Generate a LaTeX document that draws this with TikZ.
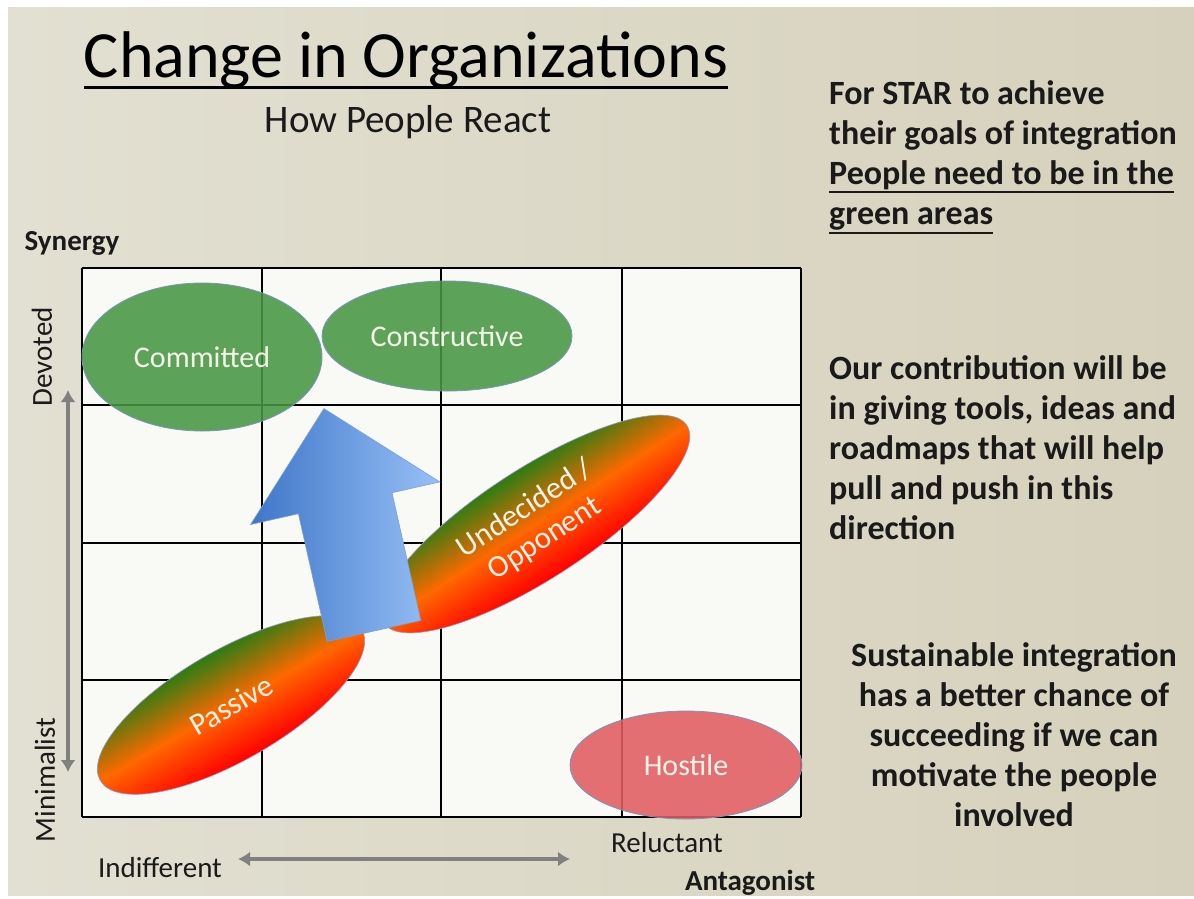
\documentclass[tikz,border=0pt]{standalone}
\usepackage{fontspec}
\setmainfont{Carlito}
\usepackage{tikz}
\usetikzlibrary{shapes.geometric,arrows.meta}

\definecolor{slideleft}{RGB}{226,224,210}
\definecolor{slidemid}{RGB}{240,239,231}
\definecolor{slideright}{RGB}{214,209,188}
\definecolor{gridfill}{RGB}{249,249,246}
\definecolor{blobtext}{RGB}{244,244,232}
\definecolor{leafgreen}{RGB}{72,150,68}
\definecolor{blobedge}{RGB}{120,150,190}
\definecolor{hostred}{RGB}{226,92,96}
\definecolor{hotgreen}{RGB}{45,125,20}
\definecolor{hotorange}{RGB}{255,104,0}
\definecolor{hotred}{RGB}{255,0,0}
\definecolor{hotedge}{RGB}{150,150,200}
\definecolor{pushdark}{RGB}{62,118,200}
\definecolor{pushlight}{RGB}{152,192,246}
\definecolor{pushedge}{RGB}{120,160,220}
\definecolor{axisgray}{RGB}{128,128,128}
\definecolor{inktext}{RGB}{26,26,26}

% underline with given depth and thickness
\newcommand{\ulinetext}[3]{\setbox0=\hbox{#3}\rlap{\rule[#1]{\wd0}{#2}}\box0}

\begin{document}
\begin{tikzpicture}[x=1pt,y=-1pt,
	gridline/.style={draw=black, line width=1.1pt},
	greenblob/.style={ellipse, draw=blobedge, line width=0.8pt, fill=leafgreen, fill opacity=0.88, text opacity=1, text=blobtext, font=\fontsize{30}{34}\selectfont, inner sep=0},
	hotblob/.style={ellipse, draw=hotedge, line width=0.6pt, top color=hotgreen, bottom color=hotred, middle color=hotorange, text=blobtext, font=\fontsize{31}{36}\selectfont, inner sep=0},
	axislabel/.style={text=inktext, font=\fontsize{29}{34}\selectfont, inner sep=0},
	sidetext/.style={text=inktext, font=\fontsize{34}{40}\selectfont\bfseries, inner sep=0},
	axisarrow/.style={{Latex[length=12pt,width=15pt]}-{Latex[length=12pt,width=15pt]}, line width=3.5pt, draw=axisgray}
]
\useasboundingbox (0,0) rectangle (1194,898);
\fill[white] (0,0) rectangle (1194,898);
\shade[left color=slideleft, middle color=slidemid, right color=slideright] (8,7) rectangle (1194,895);

% title
\node[anchor=base, text=black, font=\fontsize{66}{72}\selectfont, inner sep=0] (title) at (406,77) {\ulinetext{-12pt}{3pt}{Change in Organizations}};
\node[anchor=base, text=inktext, font=\fontsize{39}{44}\selectfont, inner sep=0] (subtitle) at (408,132) {How People React};

% grid
\fill[gridfill] (82,268) rectangle (801,817);
\foreach \gx in {82,262,441,622,801}
	\draw[gridline] (\gx,268) -- (\gx,817);
\foreach \gy in {268,405,543,680,817}
	\draw[gridline] (82,\gy) -- (801,\gy);

% groups of people
\node[greenblob, minimum width=240pt, minimum height=148pt] (committed) at (202,357) {Committed};
\node[greenblob, minimum width=250pt, minimum height=110pt] (constructive) at (447,336) {Constructive};
\node[greenblob, fill=hostred, minimum width=232pt, minimum height=108pt] (hostile) at (686,765) {Hostile};
\begin{scope}[transform canvas={rotate around={33:(535,524)}}]
	\node[hotblob, minimum width=362pt, minimum height=110pt, align=center] (undecided) at (535,524) {Undecided /\\Opponent};
\end{scope}
\begin{scope}[transform canvas={rotate around={30:(231,705)}}]
	\node[hotblob, minimum width=302pt, minimum height=110pt] (passive) at (231,705) {Passive};
\end{scope}

% big arrow
\shade[left color=pushdark, right color=pushlight, draw=pushedge, line width=0.6pt]
	(327.2,641.5) -- (298.4,513.7) -- (250.6,524.5) -- (323.9,408.6)
	-- (439.8,481.9) -- (392,492.7) -- (420.8,620.5) -- cycle;

% axes
\coordinate (devtop) at (68,390);
\coordinate (minbot) at (68,772);
\coordinate (indleft) at (238,859);
\coordinate (relright) at (570,859);
\draw[axisarrow] (devtop) -- (minbot);
\draw[axisarrow] (indleft) -- (relright);

\node[axislabel, font=\fontsize{29}{34}\selectfont\bfseries, anchor=base] (synergy) at (72,250) {Synergy};
\node[axislabel, rotate=90] (devoted) at (42,357) {Devoted};
\node[axislabel, rotate=90] (minimalist) at (45,780) {Minimalist};
\node[axislabel, anchor=base] (indifferent) at (160,877) {Indifferent};
\node[axislabel, anchor=base] (reluctant) at (667,852) {Reluctant};
\node[axislabel, font=\fontsize{29}{34}\selectfont\bfseries, anchor=base] (antagonist) at (750,890) {Antagonist};

% side notes
\node[sidetext, align=left, anchor=north west] (goals) at (829,80)
	{For STAR to achieve\\their goals of integration\\\ulinetext{-9pt}{2pt}{People need to be in the}\\\ulinetext{-10pt}{2pt}{green areas}};
\node[sidetext, align=left, anchor=north west] (contribution) at (829,355)
	{Our contribution will be\\in giving tools, ideas and\\roadmaps that will help\\pull and push in this\\direction};
\node[sidetext, align=center, anchor=north] (sustain) at (1014,642)
	{Sustainable integration\\has a better chance of\\succeeding if we can\\motivate the people\\involved};
\end{tikzpicture}
\end{document}
